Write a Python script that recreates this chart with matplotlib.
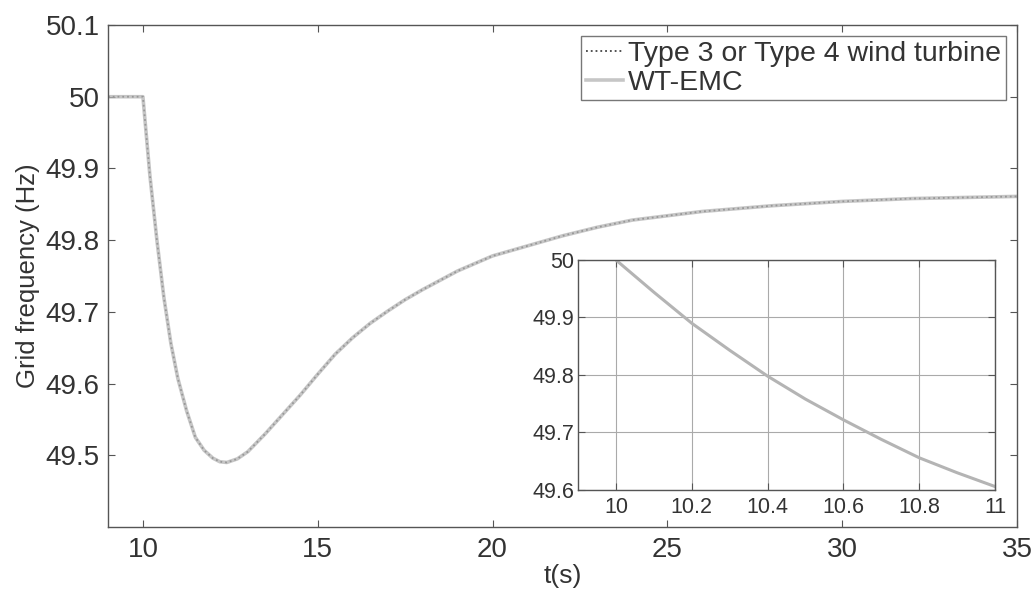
"""
Grid frequency after a load step: Type 3/4 wind turbine vs WT-EMC
"""

import matplotlib
matplotlib.use('Agg')
import matplotlib.pyplot as plt

plt.rcParams['font.family'] = ['Liberation Sans', 'DejaVu Sans']

# main plot data
t = [9, 10, 10.2, 10.4, 10.6, 10.8, 11, 11.25, 11.5, 11.75, 12, 12.2, 12.4,
     12.7, 13, 13.5, 14, 14.5, 15, 15.5, 16, 16.5, 17, 17.5, 18, 19, 20,
     21, 22, 23, 24, 25, 26, 27, 28, 29, 30, 31, 32, 33, 34, 35]
f_type34 = [50.0, 50.0, 49.89, 49.80, 49.72, 49.656, 49.607, 49.562, 49.525,
            49.507, 49.496, 49.491, 49.49, 49.495, 49.505, 49.53, 49.557,
            49.584, 49.613, 49.641, 49.664, 49.684, 49.701, 49.717, 49.731,
            49.757, 49.778, 49.792, 49.806, 49.818, 49.828, 49.834, 49.840,
            49.844, 49.848, 49.851, 49.854, 49.856, 49.858, 49.859, 49.860,
            49.861]
f_wtemc = list(f_type34)

# inset (zoom on 10-11 s)
t_zoom = [10, 10.1, 10.2, 10.3, 10.4, 10.5, 10.6, 10.7, 10.8, 10.9, 11]
f_zoom = [50.0, 49.944, 49.89, 49.843, 49.798, 49.758, 49.722, 49.688,
          49.656, 49.63, 49.606]

main_xticks = [10, 15, 20, 25, 30, 35]
main_yticks = [49.5, 49.6, 49.7, 49.8, 49.9, 50.0, 50.1]
main_ylabels = ['49.5', '49.6', '49.7', '49.8', '49.9', '50', '50.1']
zoom_xticks = [10, 10.2, 10.4, 10.6, 10.8, 11]
zoom_xlabels = ['10', '10.2', '10.4', '10.6', '10.8', '11']
zoom_yticks = [49.6, 49.7, 49.8, 49.9, 50.0]
zoom_ylabels = ['49.6', '49.7', '49.8', '49.9', '50']

txt = '#333333'
edge = '#555555'


def style(ax, size, xpad, ypad):
    for s in ax.spines.values():
        s.set_color(edge)
        s.set_linewidth(1.0)
    ax.tick_params(direction='in', top=True, right=True, colors=edge,
                   labelcolor=txt, labelsize=size, length=5, width=0.8)
    ax.tick_params(axis='x', pad=xpad)
    ax.tick_params(axis='y', pad=ypad)


fig = plt.figure(figsize=(10.35, 5.94), dpi=100)
ax = fig.add_axes([0.1043, 0.1128, 0.8783, 0.8451])

ax.plot(t, f_type34, color='#444444', linestyle=':', linewidth=1.3,
        label='Type 3 or Type 4 wind turbine')
ax.plot(t, f_wtemc, color='#b4b4b4', linewidth=2.6, alpha=0.75,
        label='WT-EMC')

ax.set_xlim(9, 35)
ax.set_ylim(49.4, 50.1)
ax.set_xticks(main_xticks)
ax.set_yticks(main_yticks)
ax.set_yticklabels(main_ylabels)
style(ax, 20, 7, 6)
ax.set_xlabel('t(s)', fontsize=19, color=txt, labelpad=1)
ax.set_ylabel('Grid frequency (Hz)', fontsize=18.5, color=txt, labelpad=4)

leg = ax.legend(loc='upper right', fontsize=20.5, handlelength=1.3,
                handletextpad=0.2, borderpad=0.15, labelspacing=0.1,
                fancybox=False, borderaxespad=0.4)
leg.get_frame().set_edgecolor(edge)
leg.get_frame().set_linewidth(1.0)
for tx in leg.get_texts():
    tx.set_color(txt)

# inset
ins = fig.add_axes([0.5585, 0.1751, 0.4029, 0.3872])
ins.plot(t_zoom, f_zoom, color='#b4b4b4', linewidth=2.2)
ins.set_xlim(9.9, 11)
ins.set_ylim(49.6, 50.0)
ins.set_xticks(zoom_xticks)
ins.set_xticklabels(zoom_xlabels)
ins.set_yticks(zoom_yticks)
ins.set_yticklabels(zoom_ylabels)
ins.grid(True, color='#aaaaaa', linewidth=0.8)
style(ins, 15.5, 5, 3)

fig.savefig('out.png', dpi=100)
